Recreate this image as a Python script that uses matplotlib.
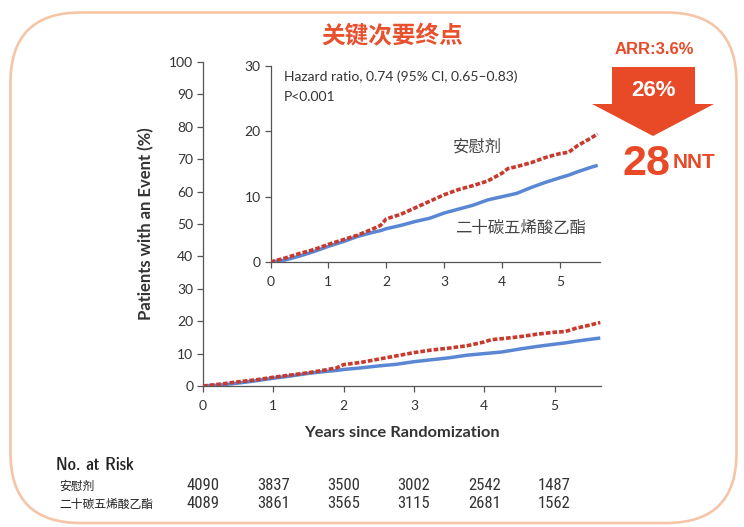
import matplotlib
matplotlib.use("Agg")
import matplotlib.pyplot as plt
from matplotlib import font_manager, transforms
from matplotlib.font_manager import FontProperties
from matplotlib.patches import FancyBboxPatch, Polygon

# ---------------- data ----------------
years = [0, 0.25, 0.5, 0.75, 1.0, 1.25, 1.5, 1.75, 1.9, 2.0, 2.25, 2.5, 2.75,
         3.0, 3.25, 3.5, 3.75, 4.0, 4.1, 4.25, 4.5, 4.75, 5.0, 5.15, 5.3, 5.5, 5.65]
placebo = [0, 0.6, 1.3, 1.9, 2.7, 3.4, 4.1, 5.0, 5.6, 6.6, 7.3, 8.3, 9.3,
           10.3, 11.1, 11.7, 12.4, 13.6, 14.3, 14.6, 15.2, 16.0, 16.6, 16.8, 17.8, 18.8, 19.6]
icosapent = [0, 0.3, 0.9, 1.6, 2.4, 3.1, 3.9, 4.5, 4.8, 5.1, 5.6, 6.2, 6.7,
             7.5, 8.1, 8.7, 9.5, 10.0, 10.2, 10.5, 11.4, 12.2, 12.9, 13.3, 13.8, 14.4, 14.8]

risk_years = [0, 1, 2, 3, 4, 5]
risk_placebo = [4090, 3837, 3500, 3002, 2542, 1487]
risk_icosapent = [4089, 3861, 3565, 3115, 2681, 1562]

label_placebo = "安慰剂"
label_icosapent = "二十碳五烯酸乙酯"
title_text = "关键次要终点"
hr_text = "Hazard ratio, 0.74 (95% CI, 0.65\u20130.83)"
p_text = "P<0.001"
arr_text = "ARR:3.6%"
rrr_text = "26%"
nnt_value = "28"
nnt_text = "NNT"

# ---------------- fonts ----------------
flist = font_manager.fontManager.ttflist
names = {f.name for f in flist}
LAT = "Lato" if "Lato" in names else "DejaVu Sans"
CJK = "Noto Sans CJK SC"


def find_condensed(bold):
    best = None
    for f in flist:
        tag = (f.name + " " + f.fname).lower()
        if ("narrow" in tag or "condensed" in tag or
                str(f.stretch).lower() in ("condensed", "semi-condensed")):
            if "mono" in tag or "serif" in f.name.lower() and "sans" not in f.name.lower():
                continue
            if "italic" in tag or "oblique" in tag:
                continue
            w = f.weight if isinstance(f.weight, int) else 400
            isbold = w >= 600
            if isbold == bold:
                best = f.fname
                if "liberation" in tag or "arial" in tag:
                    break
    return best


cond_reg = find_condensed(False)
cond_bold = find_condensed(True)

RED = "#C93A2E"
BLUE = "#5A87D3"
ORANGE = "#E84A27"
FRAME = "#F6C5A8"
TXT = "#333333"
SPINE = "#555555"

W, H = 744, 527
fig = plt.figure(figsize=(W / 100, H / 100), dpi=100)
fig.patch.set_facecolor("white")


def fx(px):
    return px / W


def fy(py):
    return 1 - py / H


def style_axes(ax):
    for s in ["top", "right"]:
        ax.spines[s].set_visible(False)
    for s in ["left", "bottom"]:
        ax.spines[s].set_color(SPINE)
        ax.spines[s].set_linewidth(0.9)
    ax.tick_params(direction="out", length=4.5, width=0.9, color=SPINE,
                   labelcolor=TXT, labelsize=10)
    ax.tick_params(axis="x", pad=5.5)
    ax.tick_params(axis="y", pad=2.5)
    for lab in ax.get_xticklabels() + ax.get_yticklabels():
        lab.set_fontfamily(LAT)
    ax.set_facecolor("none")


def draw_curves(ax):
    ax.plot(years, icosapent, color=BLUE, lw=2.5, solid_capstyle="butt", zorder=3)
    ax.plot(years, placebo, color=RED, lw=2.6, linestyle=(0, (1.3, 0.55)),
            dash_capstyle="butt", zorder=4)


# main axes
x0, x1 = 203, 601
y0, y1 = 386, 62
ax = fig.add_axes([fx(x0), fy(y0), fx(x1) - fx(x0), fy(y1) - fy(y0)])
draw_curves(ax)
ax.set_xlim(0, 5.66)
ax.set_ylim(0, 100)
ax.set_xticks(range(0, 6))
ax.set_yticks(range(0, 101, 10))
style_axes(ax)
ax.set_xlabel("Years since Randomization", fontfamily=LAT, fontweight="bold",
              fontsize=11.8, color=TXT)
ax.set_ylabel("Patients with an Event (%)", fontfamily=LAT, fontweight="bold",
              fontsize=12, color=TXT)
ax.xaxis.set_label_coords(0.5, (y0 - 426) / (y0 - y1))
ax.yaxis.set_label_coords((154 - x0) / (x1 - x0), 0.5)

# inset axes
ix0, ix1 = 270.5, 600
iy0, iy1 = 262, 66
axi = fig.add_axes([fx(ix0), fy(iy0), fx(ix1) - fx(ix0), fy(iy1) - fy(iy0)])
draw_curves(axi)
axi.set_xlim(0, 5.69)
axi.set_ylim(0, 30)
axi.set_xticks(range(0, 6))
axi.set_yticks([0, 10, 20, 30])
style_axes(axi)
axi.set_facecolor("white")

# overlay in pixel coordinates
ov = fig.add_axes([0, 0, 1, 1], zorder=10)
ov.set_xlim(0, W)
ov.set_ylim(H, 0)
ov.axis("off")
ov.set_facecolor("none")

frame = FancyBboxPatch((10.5, 12.5), 726, 510.5, boxstyle="round,pad=0,rounding_size=70",
                       fill=False, edgecolor=FRAME, linewidth=1.9)
ov.add_patch(frame)

ov.text(392, 36, title_text, fontfamily=CJK, fontweight="bold", fontsize=17,
        color="#E8502E", ha="center", va="center")

# inset annotations
ov.text(284, 77, hr_text, fontfamily=LAT, fontsize=10, color=TXT, ha="left", va="center")
ov.text(284, 97, p_text, fontfamily=LAT, fontsize=10, color=TXT, ha="left", va="center")
ov.text(453, 147, label_placebo, fontfamily=CJK, fontsize=11.8, color="#444444",
        ha="left", va="center")
ov.text(455, 228, label_icosapent, fontfamily=CJK, fontsize=11.8, color="#444444",
        ha="left", va="center")

# arrow
arrow = Polygon([(612, 67), (695, 67), (695, 104), (714, 104), (653, 136),
                 (592, 104), (612, 104)], closed=True, facecolor=ORANGE,
                edgecolor="none")
ov.add_patch(arrow)
ov.text(654, 49, arr_text, fontfamily="Liberation Sans", fontweight="bold",
        fontsize=12, color=ORANGE, ha="center", va="center")
ov.text(653, 90, rrr_text, fontfamily="Liberation Sans", fontweight="bold",
        fontsize=16, color="white", ha="center", va="center")
ov.text(671, 164, nnt_value, fontfamily="Liberation Sans", fontweight="bold",
        fontsize=31, color=ORANGE, ha="right", va="center")
ov.text(673, 162, nnt_text, fontfamily="Liberation Sans", fontweight="bold",
        fontsize=15, color=ORANGE, ha="left", va="center")

# number at risk table
if cond_reg:
    num_fp = FontProperties(fname=cond_reg, size=12)
else:
    num_fp = FontProperties(family=LAT, size=10.5)
if cond_bold:
    head_fp = FontProperties(fname=cond_bold, size=12.5)
else:
    head_fp = FontProperties(family=LAT, weight="bold", size=11.5)

ov.text(56, 465, "No. at Risk", fontproperties=head_fp,
        color="#222222", ha="left", va="center")
ov.text(59, 486, label_placebo, fontfamily=CJK, fontsize=8.5, color="#222222",
        ha="left", va="center")
ov.text(59, 504, label_icosapent, fontfamily=CJK, fontsize=8.5, color="#222222",
        ha="left", va="center")
blend = transforms.blended_transform_factory(ax.transData, ov.transData)
for yr, a, b in zip(risk_years, risk_placebo, risk_icosapent):
    ov.text(yr, 486, str(a), transform=blend, fontproperties=num_fp,
            color=TXT, ha="center", va="center")
    ov.text(yr, 504, str(b), transform=blend, fontproperties=num_fp,
            color=TXT, ha="center", va="center")

fig.savefig("out.png", dpi=100)
